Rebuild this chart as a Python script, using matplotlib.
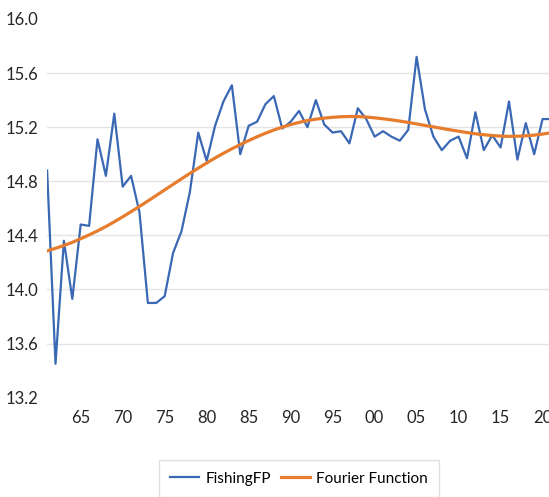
import numpy as np
import matplotlib
matplotlib.use("Agg")
import matplotlib.pyplot as plt

# data
years = list(range(1961, 2022))
fishing_fp = [14.88, 13.45, 14.36, 13.93, 14.48, 14.47, 15.11, 14.84, 15.30, 14.76,
              14.84, 14.57, 13.90, 13.90, 13.95, 14.27, 14.43, 14.72, 15.16, 14.95,
              15.21, 15.39, 15.51, 15.00, 15.21, 15.24, 15.37, 15.43, 15.19, 15.24,
              15.32, 15.20, 15.40, 15.22, 15.16, 15.17, 15.08, 15.34, 15.26, 15.13,
              15.17, 15.13, 15.10, 15.18, 15.72, 15.33, 15.13, 15.03, 15.10, 15.13,
              14.97, 15.31, 15.03, 15.14, 15.05, 15.39, 14.96, 15.23, 15.00, 15.26,
              15.26]
fourier = [14.285, 14.304, 14.325, 14.348, 14.375, 14.403, 14.433, 14.465, 14.500, 14.537,
           14.575, 14.614, 14.654, 14.695, 14.736, 14.777, 14.818, 14.858, 14.897, 14.935,
           14.972, 15.007, 15.040, 15.071, 15.101, 15.129, 15.155, 15.179, 15.200, 15.219,
           15.235, 15.249, 15.259, 15.267, 15.273, 15.277, 15.279, 15.278, 15.275, 15.269,
           15.262, 15.254, 15.245, 15.235, 15.224, 15.213, 15.202, 15.191, 15.180, 15.170,
           15.160, 15.151, 15.144, 15.138, 15.134, 15.132, 15.133, 15.136, 15.141, 15.149,
           15.158]
tick_years = list(range(1965, 2021, 5))
tick_labels = ['65', '70', '75', '80', '85', '90', '95', '00', '05', '10', '15', '20']
grid_years = list(range(1970, 2021, 10))
yticks = [13.2, 13.6, 14.0, 14.4, 14.8, 15.2, 15.6, 16.0]

plt.rcParams['font.family'] = ['Lato', 'DejaVu Sans']

fig = plt.figure(figsize=(5.49, 4.97), dpi=100)
ax = fig.add_axes([0.0858, 0.2, 0.9178, 0.7618])

ax.plot(years, fishing_fp, color='#3a68b4', lw=1.6, label='FishingFP', zorder=3)
ax.plot(years, fourier, color='#e67c2e', lw=2.3, label='Fourier Function', zorder=4)

ax.set_xlim(1961, 2021)
ax.set_ylim(13.2, 16.0)

ax.set_xticks(tick_years)
ax.set_xticklabels(tick_labels)
ax.set_xticks(grid_years, minor=True)
ax.set_yticks(yticks)
ax.set_yticklabels(['%.1f' % v for v in yticks])

ax.tick_params(axis='both', which='both', length=0, labelsize=12, colors='#262626')
ax.tick_params(axis='x', pad=9)
ax.tick_params(axis='y', pad=6)

ax.grid(which='minor', axis='x', color='#e4e4e4', lw=1)
ax.grid(which='major', axis='y', color='#e4e4e4', lw=1)
gl = ax.yaxis.get_gridlines()
gl[0].set_visible(False)
gl[-1].set_visible(False)

for s in ax.spines.values():
    s.set_visible(False)

leg = ax.legend(loc='upper center', bbox_to_anchor=(0.5, -0.165), ncol=2,
                fontsize=11, frameon=True, fancybox=False, handlelength=1.9,
                handletextpad=0.4, columnspacing=0.65, borderpad=0.75,
                borderaxespad=0)
leg.get_frame().set_edgecolor('#d9d9d9')
leg.get_frame().set_linewidth(1)

fig.savefig('out.png', dpi=100)
